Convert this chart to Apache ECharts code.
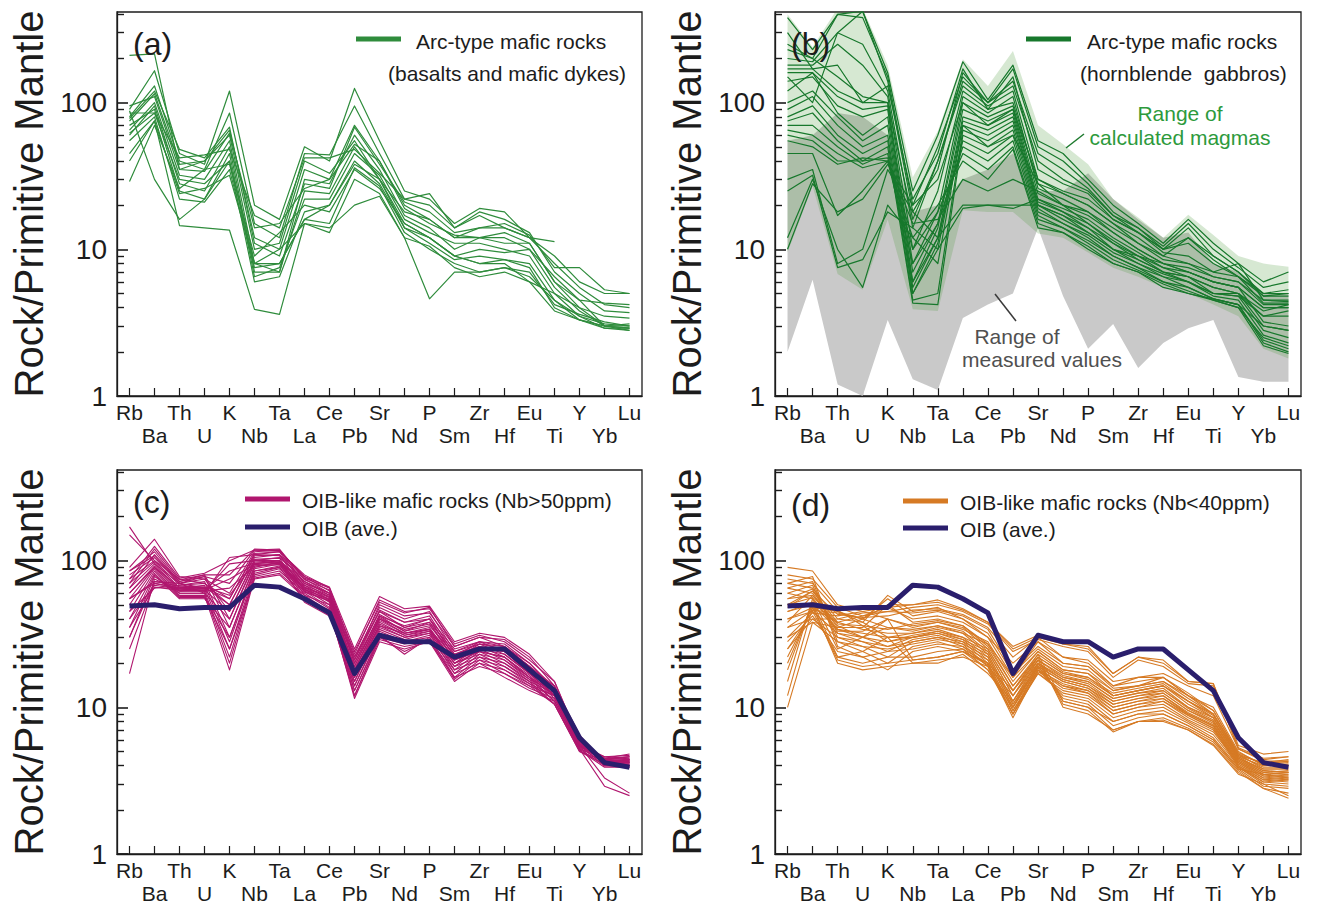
<!DOCTYPE html>
<html><head><meta charset="utf-8">
<script src="https://cdn.jsdelivr.net/npm/echarts@6/dist/echarts.min.js"></script>
<style>html,body{margin:0;padding:0;background:#fff}#c{width:1317px;height:905px}</style>
</head><body><div id="c"></div>
<script>
// ---------------- DATA ----------------
const elements = ['Rb','Ba','Th','U','K','Nb','Ta','La','Ce','Pb','Sr','Nd','P','Sm','Zr','Hf','Eu','Ti','Y','Yb','Lu'];
const yTickLabels = [1, 10, 100];
const minorTickValues = [2,3,4,5,6,7,8,9,20,30,40,50,60,70,80,90,200,300,400];
const yMin = 1, yMax = 415;

// (a) arc-type basalts and mafic dykes
const arcBasalts = [
  [210,215,35,40,60,10,11,40,33,55,30,18,16,12,12,11,11,6,4.5,3.0,3.0],
  [90,165,45,38,120,20,16,50,40,125,55,25,22,15,19,18,12,8,5.5,4.2,4.0],
  [80,130,40,35,85,15,12,45,44,95,45,22,20,14,18,16,13,7,5,3.8,3.7],
  [75,115,38,40,65,12,10,35,30,70,40,20,16,12,14,14,12,9,6,5,5],
  [65,100,32,30,55,8,7,30,28,60,35,17,14,10,12,13,11,6,4,3,2.9],
  [60,95,28,25,50,7,7,25,24,50,30,15,12,9,10,9.5,10,5.5,3.8,3.0,2.8],
  [70,90,25,22,45,6.5,7.5,22,22,45,32,16,13,11,11,10,9,5,3.5,2.9,2.9],
  [85,85,30,28,40,6,6.5,18,20,40,28,14,11,8.5,9,8.5,8,4.5,3.3,3.0,3.1],
  [55,80,22,21,35,7.5,8,16,15,36,27,13,10,8,7,7.5,7,4.2,3.6,3.2,3.0],
  [40,75,24,26,32,8,10,15,13,30,24,12,10.5,7.5,6.5,7,6,3.8,3.3,2.9,2.8],
  [29,70,26,35,38,9,13,20,18,35,26,15,12,9,8,8,6,5,4,3.5,3.4],
  [95,110,35,34,62,14,15,26,30,52,40,19,15,12.5,12,12,10,6.5,4.5,4.3,4.2],
  [88,30,16,22,40,8,8,16,20,38,30,14,12,9,8,8.5,7.5,4,3.3,3.0,2.9],
  [45,75,14.5,14,13.5,3.9,3.6,15,14,20,23,12,4.6,7,7,7.5,6.5,4.5,3.5,3.1,3.0],
  [62,85,42,44,48,17,14,42,42,48,33,22,24,14,17,14,12,11.3,null,null,null],
  [78,120,48,42,68,11,9,28,26,68,38,21,18,13,14,15,12.5,7.5,7.5,5.3,5.0]
];

// (b) arc-type hornblende gabbros
const arcGabbros = [
  [380,230,400,420,160,25,60,190,105,180,55,45,30,20,15,11,16,11,8,6,7],
  [250,200,400,380,150,20,50,150,100,170,50,40,28,18,14,10.5,15,10,7.5,5.5,6],
  [200,190,300,250,120,14,40,130,95,120,30,25,22,16,13,10,14,9,7,5,5.3],
  [180,180,250,180,110,10,25,120,90,100,28,24,20,15,12,9,12,8.5,6.5,4.8,5],
  [170,170,120,100,100,8,18,110,85,110,26,22,18,14,11,8.5,8,7,8,4.5,4.5],
  [160,160,110,90,95,7,15,100,80,95,24,20,17,13,10,8,7.5,6.5,6,4.2,4.2],
  [140,150,95,80,90,6,14,90,75,90,22,19,16,12,9.5,7.5,7,6,5.5,4,4],
  [120,160,85,60,80,5.5,12,80,70,85,21,18,15,11.5,9,7,6.5,5.5,5,3.5,3.5],
  [100,120,80,55,70,5,11,75,65,80,20,17,14,11,8.5,7,6.5,5,5,3,2.8],
  [90,110,70,50,60,5,10,70,60,75,20,16,13,10,8,6.8,6,5,4.8,2.8,2.5],
  [80,95,60,45,55,4.5,5,65,55,70,19,15,12.5,9.5,8,6.5,6,4.8,4.5,2.6,2.3],
  [75,85,55,40,50,4.3,4.2,60,50,65,18,15,12,9,7.5,6.5,5.5,4.6,4.2,2.4,2.1],
  [70,70,50,38,45,6,12,55,45,60,17,14,11.5,9,7.5,6,5.5,4.6,4.2,2.3,2.0],
  [65,60,45,36,40,8,15,50,40,55,16,14,11,8.5,7.2,6,5.2,4.5,4,2.2,1.95],
  [60,55,40,40,42,10,18,45,35,50,15,13,10.5,8,7,5.8,5,4.5,4,2.5,2.2],
  [55,50,38,42,40,12,20,40,30,48,14,13,10,8,7,5.5,5,4.6,4.2,3,2.8],
  [45,45,17,25,40,15,16,30,25,30,25,20,15,11,9,8,7,6,5.5,4,4],
  [30,35,8,10,35,18,12,20,20,19,22,18,14,10,9,7.5,6.5,5.5,5,3.8,4.2],
  [25,32,7.5,8.5,18,14,10,19,20,20,20,17,13,10,8.5,7,6,5,4.8,3.5,3.8],
  [12,30,10,5.5,20,12,8,70,50,60,28,20,18,13,10,8,7,6,5.5,3.2,3],
  [10,28,18,22,38,20,30,100,70,90,30,24,20,15,11,9,8,6.5,6,4.5,4.4],
  [230,200,150,110,100,16,40,140,100,130,40,30,25,17,14,10,11,8,6.5,5,5],
  [300,170,180,100,130,22,45,170,90,150,35,28,24,16,13,9.5,9,7,6.5,4.3,4.3],
  [150,100,300,420,140,18,35,160,100,140,45,35,26,17,13,10,12,9,7,4.8,4.8]
];
const calcRangeUpper = [400,240,440,440,180,31,64,198,130,225,70,52,38,22,16.5,12,17.2,12.5,9,8,7.6];
const calcRangeLower = [9.5,27,6.8,5.3,16,3.9,3.8,18.5,18,18,12.8,12,9.5,7.5,6.5,5.5,5,4.2,3.5,2.1,1.8];
const measRangeUpper = [55,60,85,80,60,18,20,30,35,45,25,25,33,22,16,12,13,8,7,5,5];
const measRangeLower = [2.0,6.2,1.2,1.0,3.3,1.3,1.1,3.4,4.2,5.0,14,4.8,2.1,3.1,1.55,2.3,2.9,3.3,1.35,1.25,1.25];

// (c) OIB-like mafic rocks (Nb>50ppm)
const oibHighNb = [
  [170,95,70,65,55,110,115,80,65,22,45,35,40,22,28,26,20,13,6.0,4.4,4.5],
  [150,100,75,70,50,105,110,78,62,20,42,33,38,21,27,25,19,12.5,5.8,4.3,4.3],
  [90,140,78,75,45,100,105,75,60,18,40,32,35,20,26,24,18,12,5.7,4.2,4.2],
  [85,115,72,80,40,95,100,72,58,17,38,31,34,19,25,23,17,12,5.5,4.4,4.6],
  [80,105,70,78,35,90,98,70,56,16,36,30,33,18,24,22,16.5,11.5,5.4,4.5,4.8],
  [75,100,68,72,30,88,95,68,54,15,34,29,32,17,23,21,16,11,5.3,4.2,4.4],
  [70,98,65,68,28,85,92,66,52,14,32,28,30,16,22,20,15.5,11,5.2,4.0,4.0],
  [65,95,63,65,25,82,90,64,50,13,30,27,29,15.5,21,19,15,10.5,5.1,3.9,3.9],
  [60,92,62,62,22,80,88,62,48,12,29,26,28,15,20,18,14.5,10.5,5.0,4.1,4.2],
  [55,90,60,60,20,78,85,60,47,11.5,28,25,28,16,19,17,14,10.5,5.0,4.3,4.4],
  [50,88,58,58,18,76,82,58,45,12,30,24,29,17,20,16,13,11,5.2,4.5,4.6],
  [45,85,57,57,25,75,80,56,44,13,31,23,30,18,21,17,13.5,11.5,5.4,4.6,4.7],
  [40,82,56,56,30,85,90,54,43,14,33,28,31,19,22,18,14,12,5.6,4.6,4.5],
  [35,80,55,55,35,92,96,52,42,15,35,30,32,20,23,19,14.5,12,5.8,4.5,4.4],
  [30,78,60,60,40,98,100,55,46,16,37,31,33,21,24,20,15,12.5,6.0,4.4,4.3],
  [17,75,62,63,45,102,104,58,50,17,39,32,34,22,25,21,15.5,13,6.2,4.3,4.2],
  [25,70,65,66,50,108,110,62,53,18,41,33,36,23,26,22,16,13,6.3,4.2,4.1],
  [45,65,68,70,55,112,115,66,57,19,43,35,38,24,27,23,17,13.5,6.4,4.1,4.0],
  [55,72,70,75,60,115,118,70,60,20,46,38,40,25,28,24,18,14,6.5,4.0,3.9],
  [65,110,72,78,70,118,120,74,63,21,50,42,44,26,30,26,19,14,6.2,4.0,4.0],
  [70,120,74,80,80,120,118,76,65,23,54,45,47,27,31,28,21,15,6.0,4.2,4.2],
  [75,125,76,82,100,118,116,78,66,25,57,47,49,28,32,30,23,15,5.8,4.3,4.3],
  [85,108,70,60,105,110,108,72,60,24,52,44,48,26,30,29,22,14,5.5,3.3,2.6],
  [60,90,66,62,95,100,100,68,58,22,48,40,45,24,28,27,20,13.5,5.2,2.9,2.5],
  [55,70,65,64,85,96,98,65,56,21,45,38,42,23,27,26,19,13,5.5,4.0,4.1],
  [40,68,64,63,75,94,96,63,55,19,42,36,40,22,26,25,18,12.5,5.6,4.2,4.3],
  [35,66,63,62,65,92,94,61,53,18,40,34,37,21,25,24,17,12,5.6,4.3,4.4],
  [30,72,67,66,58,96,98,64,54,17,36,32,34,20,24,22,16,12,5.4,4.4,4.6]
];

// (d) OIB-like mafic rocks (Nb<40ppm)
const oibLowNb = [
  [90,85,50,45,48,50,52,46,38,25,30,27,25,17,22,20,15,14.5,5.5,4.8,5.0],
  [80,75,48,42,45,48,50,45,37,24,29,26,24,16,21,19,14.5,14,5.3,4.5,4.6],
  [75,70,45,40,50,50,54,47,38,26,31,27,26,17,22,21,15,14.5,5.2,4.3,4.3],
  [70,65,40,38,58,45,48,40,30,20,28,22,20,14,16,16,12,10,5.0,4.0,4.0],
  [65,60,35,35,50,38,40,36,26,14,22,17,16,12,13,14,11,9,4.8,3.8,3.8],
  [60,55,33,33,40,35,38,35,25,13,21,16,15,11.5,12.5,13,10,8.5,4.6,3.7,3.6],
  [55,58,36,30,35,33,36,33,24,12,20,15.5,14,11,12,12.5,9.5,8,4.5,3.6,3.5],
  [50,62,38,34,32,32,35,32,23,11,19,15,13.5,10.5,11.5,12,9,7.5,4.4,3.5,3.4],
  [45,50,34,32,30,30,33,30,22,10.5,18.5,14,13,10,11,11.5,8.8,7.2,4.3,3.4,3.3],
  [40,45,32,30,28,30,32,29,21,10,18,13.5,12.5,9.5,10.5,11,8.5,7,4.2,3.3,3.2],
  [35,40,30,28,26,28,30,28,20,9.5,17,13,12,9,10,10.5,8.2,6.8,4.1,3.2,3.1],
  [30,38,28,26,25,27,29,27,19,9,17,12.5,11.5,8.5,9.5,10,8,6.5,4.0,3.1,3.0],
  [28,42,24,22,24,25,27,26,19,8.5,18,12,11,8,9,9.5,7.8,6.2,3.9,3.0,2.9],
  [25,45,22,20,22,22,24,25,18,9,19,11.5,10.5,7.5,8.5,9,7.5,6,3.8,2.9,2.8],
  [22,48,21,19,20,21,22,24,18,10,20,11,10,7,8,8.5,7.2,5.8,3.7,2.8,2.6],
  [20,50,20,18,19,20,20,23,17,11,21,10.5,9.5,6.8,8,8.2,7,5.6,3.6,2.8,2.4],
  [18,52,22,24,30,20,21,22,19,12,22,10,9,7,8,8,7,5.5,3.5,3.0,2.5],
  [15,55,25,30,40,21,22,24,20,13,23,11,10,8,9,9,7.5,6,3.8,3.5,3.3],
  [12,48,38,42,48,40,42,38,30,16,24,18,17,12,13,14,11,8.5,4.5,3.7,3.6],
  [10,38,35,40,55,42,45,40,32,17,25,19,18,13,14,15,12,9,4.7,3.9,3.9],
  [25,40,40,44,45,44,46,42,34,18,26,20,19,14,15,16,12.5,9.5,4.9,4.1,4.2],
  [30,44,42,45,40,36,38,34,28,15,24,18,17,13,14,15,11.5,9,4.7,4.2,4.4],
  [35,46,44,40,35,34,36,32,27,14,23,17.5,16,12.5,13.5,14.5,11,8.8,4.6,4.0,4.1],
  [40,48,45,38,30,32,34,30,25,13,22,17,15.5,12,13,14,10.5,8.5,4.5,3.8,3.8],
  [45,52,46,36,28,31,33,29,24,12,21,16.5,15,11.5,12.5,13.5,10,8.2,4.4,3.6,3.7],
  [50,56,34,30,26,30,32,28,23,11,20,16,14.5,11,12,13,9.8,8,4.3,3.5,3.6],
  [55,64,32,28,24,29,31,27,22,10.5,19.5,15.5,14,10.5,11.5,12.5,9.5,7.8,4.2,3.4,3.5],
  [60,68,30,26,22,28,30,26,21,10,19,15,13.5,10,11,12,9.2,7.6,4.1,3.3,3.4],
  [65,72,28,24,20,26,28,25,20,9.5,18,14.5,13,9.5,10.5,11.5,9,7.4,4.0,3.2,3.3],
  [70,78,26,22,18,24,26,24,19.5,9,17.5,14,12.5,9,10,11,8.8,7.2,3.9,3.1,3.2],
  [38,58,37,36,34,37,39,36,27,16,28,20,19,13.5,14,16,12,9.5,4.8,4.1,4.3],
  [48,62,43,41,42,46,47,43,35,22,30,22,21,15,16,17,14,12,5.2,4.4,4.6]
];

// OIB average
const oibAverage = [49,50,47,48,48,68,66,55,44,17,31,28,28,22,25,25,18,13,6.2,4.2,3.9];

// ---------------- STYLE / LAYOUT ----------------
const FONT = '"Liberation Sans", Arial, Helvetica, sans-serif';
const INK = '#1c1c1c';
const GREEN_A = '#2f8c3c', GREEN_B = '#17782c', MAGENTA = '#b0166e', ORANGE = '#d67a24', NAVY = '#2a1e6c';

const gridBoxes = [
  {left:117, top:12, width:525, height:384},
  {left:775, top:12, width:526, height:384},
  {left:117, top:470, width:525, height:384},
  {left:775, top:470, width:526, height:384}
];

const grids = gridBoxes.map(b => Object.assign({show:true, borderColor:INK, borderWidth:1.3, backgroundColor:'transparent'}, b));

const xAxes = gridBoxes.map((b, g) => ({
  type:'category', gridIndex:g, data:elements, boundaryGap:true,
  axisLine:{show:true, lineStyle:{color:INK, width:1.3}},
  axisTick:{show:true, inside:true, alignWithLabel:true, length:8, lineStyle:{color:INK, width:1.2}},
  axisLabel:{interval:0, fontFamily:FONT, fontSize:21, color:INK, margin:5, lineHeight:23,
    formatter:(v, i) => (i % 2 ? '\n' + v : v)},
  splitLine:{show:false}
}));

const yAxes = [];
gridBoxes.forEach((b, g) => {
  yAxes.push({
    type:'log', logBase:10, gridIndex:g, min:yMin, max:yMax, position:'left',
    axisLine:{show:true, lineStyle:{color:INK, width:1.3}},
    axisTick:{show:true, inside:true, length:11, lineStyle:{color:INK, width:1.6}},
    axisLabel:{fontFamily:FONT, fontSize:28, color:INK, margin:10, showMaxLabel:false,
      formatter:v => { const r = Math.round(v); return yTickLabels.indexOf(r) >= 0 ? String(r) : ''; }},
    splitLine:{show:false}, minorTick:{show:false},
    name:'Rock/Primitive Mantle', nameLocation:'middle', nameGap:68,
    nameTextStyle:{fontFamily:FONT, fontSize:40, color:INK}
  });
  yAxes.push({
    type:'value', gridIndex:g, min:Math.log10(yMin), max:Math.log10(yMax), position:'left',
    axisLine:{show:false}, axisLabel:{show:false}, splitLine:{show:false},
    axisTick:{show:true, inside:true, length:7, customValues:minorTickValues.map(v => Math.log10(v)),
      lineStyle:{color:INK, width:1.4}}
  });
});

const series = [];
function addLines(rows, g, color, width, z) {
  rows.forEach(r => series.push({
    type:'line', xAxisIndex:g, yAxisIndex:2 * g, data:r, symbol:'none', showSymbol:false,
    connectNulls:false, silent:true, z:z,
    lineStyle:{color:color, width:width, join:'round'}
  }));
}
function addBand(upper, lower, g, fill, z) {
  series.push({
    type:'custom', xAxisIndex:g, yAxisIndex:2 * g, silent:true, z:z, clip:true,
    data:[[0, 1]],
    renderItem:(params, api) => {
      const pts = [];
      for (let i = 0; i < upper.length; i++) pts.push(api.coord([i, upper[i]]));
      for (let i = lower.length - 1; i >= 0; i--) pts.push(api.coord([i, lower[i]]));
      return {type:'polygon', shape:{points:pts}, style:{fill:fill, stroke:null}};
    }
  });
}

addLines(arcBasalts, 0, GREEN_A, 1.2, 3);
addBand(measRangeUpper, measRangeLower, 1, '#c9c9c9', 1);
addBand(calcRangeUpper, calcRangeLower, 1, 'rgba(70,150,50,0.22)', 2);
addLines(arcGabbros, 1, GREEN_B, 1.2, 3);
addLines(oibHighNb, 2, MAGENTA, 1.1, 3);
series.push({type:'line', xAxisIndex:2, yAxisIndex:4, data:oibAverage, symbol:'none', silent:true, z:5,
  lineStyle:{color:NAVY, width:5, join:'round'}});
addLines(oibLowNb, 3, ORANGE, 1.1, 3);
series.push({type:'line', xAxisIndex:3, yAxisIndex:6, data:oibAverage, symbol:'none', silent:true, z:5,
  lineStyle:{color:NAVY, width:5, join:'round'}});

function txt(x, y, s, size, color, align) {
  return {type:'text', x:x, y:y, z:100, silent:true,
    style:{text:s, fontFamily:FONT, fontSize:size, fill:color, textAlign:align || 'left', textVerticalAlign:'middle'}};
}
function seg(x1, y1, x2, y2, color, w) {
  return {type:'line', z:100, silent:true, shape:{x1:x1, y1:y1, x2:x2, y2:y2}, style:{stroke:color, lineWidth:w}};
}

const graphics = [
  txt(133, 44, '(a)', 32, INK), txt(791, 44, '(b)', 32, INK),
  txt(133, 502, '(c)', 32, INK), txt(791, 505, '(d)', 32, INK),
  seg(356, 39, 401, 39, GREEN_A, 5), txt(416, 41, 'Arc-type mafic rocks', 21, INK),
  txt(388, 73, '(basalts and mafic dykes)', 21, INK),
  seg(1026, 39, 1071, 39, GREEN_B, 5), txt(1087, 41, 'Arc-type mafic rocks', 21, INK),
  txt(1080, 73, '(hornblende  gabbros)', 21, INK),
  txt(1180, 113, 'Range of', 21, '#2d9a3c', 'center'), txt(1180, 137, 'calculated magmas', 21, '#2d9a3c', 'center'),
  seg(1066, 148, 1084, 134, '#1e7a2e', 1.5),
  txt(1017, 336, 'Range of', 21, '#505050', 'center'), txt(1042, 359, 'measured values', 21, '#505050', 'center'),
  seg(995, 294, 1016, 321, '#3a3a3a', 1.5),
  seg(245, 499, 290, 499, MAGENTA, 5), txt(302, 500, 'OIB-like mafic rocks (Nb>50ppm)', 21, INK),
  seg(245, 527, 290, 527, NAVY, 5), txt(302, 528, 'OIB (ave.)', 21, INK),
  seg(903, 501, 948, 501, ORANGE, 5), txt(960, 502, 'OIB-like mafic rocks (Nb<40ppm)', 21, INK),
  seg(903, 528, 948, 528, NAVY, 5), txt(960, 529, 'OIB (ave.)', 21, INK)
];

const chart = echarts.init(document.getElementById('c'), null, {renderer:'svg', width:1317, height:905});
chart.setOption({
  animation:false, backgroundColor:'#ffffff',
  grid:grids, xAxis:xAxes, yAxis:yAxes, series:series, graphic:graphics
});
</script>
</body></html>
